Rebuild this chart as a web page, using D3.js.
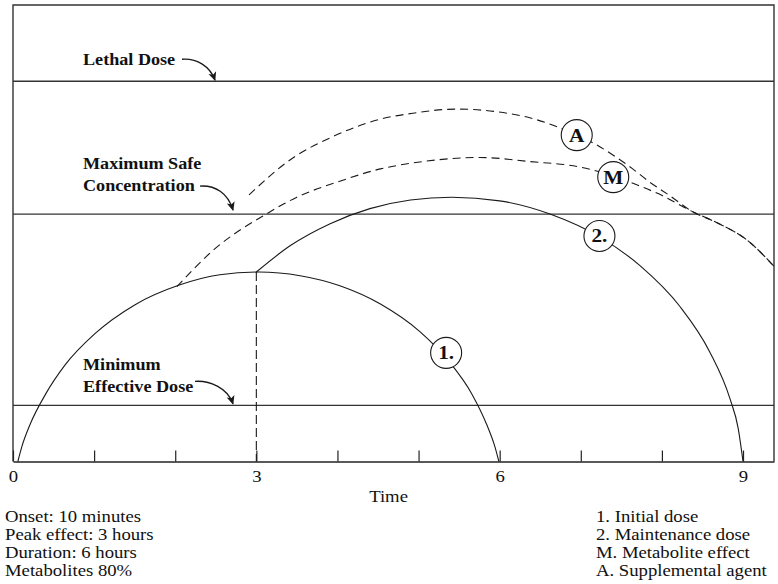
<!DOCTYPE html>
<html><head><meta charset="utf-8">
<script src="https://cdn.jsdelivr.net/npm/d3@7"></script>
<style>
html,body{margin:0;padding:0;background:#fff;}
svg{display:block;}
text{font-family:"Liberation Serif","Times New Roman",serif;fill:#111;}
</style>
</head><body>
<svg id="c" width="778" height="584"></svg>
<script>
// ---------- data ----------
const xTicks = [0,1,2,3,4,5,6,7,8,9];
const xTickLabels = ["0","3","6","9"];
const axisTitle = "Time";
const levelNames = [["Lethal Dose"], ["Maximum Safe","Concentration"], ["Minimum","Effective Dose"]];
const levelValues = [83.3, 54.2, 12.3];

// 1. Initial dose (time, concentration)
const initialDose = [[0.06,0],[0.11,3.3],[0.21,8.1],[0.40,14.7],[0.64,21.1],[1.01,28.0],[1.50,34.3],
  [2.06,38.7],[2.55,40.9],[3.03,41.5],[3.54,40.7],[4.03,38.5],[4.53,34.5],[5.02,28.4],[5.39,21.6],
  [5.66,14.7],[5.84,8.1],[5.94,3.3],[5.99,0]];
// 2. Maintenance dose
const maintenanceDose = [[3.0,41.5],[3.42,47.3],[3.91,52.1],[4.40,55.4],[4.90,57.3],[5.41,57.9],
  [6.00,57.1],[6.62,54.2],[7.24,49.1],[7.73,42.9],[8.22,34.0],[8.59,24.0],[8.84,13.7],[8.94,7.3],[9.0,0]];
// M. Metabolite effect
const metaboliteEffect = [[2.02,38.3],[2.47,46.3],[3.14,54.4],[3.50,57.9],[4.03,61.4],[4.53,64.1],
  [4.93,65.4],[5.76,66.6],[6.37,65.7],[6.99,64.5],[7.40,62.5],[7.69,60.6],[8.01,58.2],[8.38,54.7],
  [8.68,52.3],[9.05,48.5],[9.38,42.8]];
// A. Supplemental agent
const supplementalAgent = [[2.91,58.4],[3.45,66.5],[3.91,70.9],[4.53,75.0],[4.93,76.3],[5.47,77.2],
  [5.97,76.6],[6.37,75.3],[6.71,73.3],[6.95,71.5],[7.15,69.8],[7.40,67.1],[7.64,64.1],[7.85,61.2],
  [8.10,58.2],[8.38,54.7],[8.68,52.3],[9.05,48.5],[9.38,42.8]];
const peakTime = 3;
const peakValue = 41.5;
const curveLabels = ["1.","2.","M","A"];
const curveLabelPoints = [[5.34,23.8],[7.23,49.4],[7.40,62.3],[6.95,71.5]];
const notesLeft = ["Onset: 10 minutes","Peak effect: 3 hours","Duration: 6 hours","Metabolites 80%"];
const notesRight = ["1. Initial dose","2. Maintenance dose","M. Metabolite effect","A. Supplemental agent"];

// ---------- layout ----------
const L = 13, R = 774, T = 5, B = 461.5;
const SX = 1.1; // horizontal stretch of the lettering
const ink = "#1a1a1a";

const svg = d3.select("#c");
const x = d3.scaleLinear().domain([0, 9.382]).range([L, R]);
const y = d3.scaleLinear().domain([0, 100]).range([B, T]);

svg.append("defs").append("marker")
  .attr("id","ah").attr("viewBox","0 0 10 10").attr("refX",9).attr("refY",5)
  .attr("markerWidth",10).attr("markerHeight",9).attr("markerUnits","userSpaceOnUse")
  .attr("orient","auto")
  .append("path").attr("d","M0,0.5 L10,5 L0,9.5 L2.5,5 Z").attr("fill",ink);

// frame
svg.append("path")
  .attr("d", `M${L},${B} V${T} H${R} V${B}`)
  .attr("fill","none").attr("stroke","#333").attr("stroke-width",1.4);

// levels
svg.selectAll("line.level").data(levelValues).join("line")
  .attr("class","level")
  .attr("x1",L).attr("x2",R)
  .attr("y1",d=>y(d)).attr("y2",d=>y(d))
  .attr("stroke","#333").attr("stroke-width",1.4);

// level labels + arrows (annotation layout)
const labelLayout = [
  {tx:83, lastOff:-16, ax0:182, ay0:-22, ax1:215, ay1:-1},
  {tx:83, lastOff:-23, ax0:200, ay0:-28, ax1:233, ay1:-4},
  {tx:83, lastOff:-13.5, ax0:195, ay0:-24, ax1:233, ay1:-1.5}
];
levelNames.forEach((lines,i)=>{
  const ly = y(levelValues[i]);
  const lay = labelLayout[i];
  const n = lines.length;
  lines.forEach((s,j)=>{
    svg.append("text")
      .attr("transform",`translate(${lay.tx},${ly + lay.lastOff - (n-1-j)*22}) scale(${SX},1)`)
      .attr("font-size",16.5).attr("font-weight","bold").text(s);
  });
  const x0 = lay.ax0, y0 = ly + lay.ay0, x1 = lay.ax1, y1 = ly + lay.ay1;
  svg.append("path")
    .attr("d",`M${x0},${y0} C${x0+15},${y0-1} ${x1-5},${y0+7} ${x1},${y1}`)
    .attr("fill","none").attr("stroke",ink).attr("stroke-width",1.3)
    .attr("marker-end","url(#ah)");
});

// axis
const axis = d3.axisBottom(x).tickValues(xTicks).tickSize(-11).tickSizeOuter(0).tickPadding(8)
  .tickFormat(d => xTickLabels.includes(String(d)) ? String(d) : "");
const ag = svg.append("g").attr("transform",`translate(0,${B})`).call(axis);
ag.select(".domain").attr("stroke","#222").attr("stroke-width",1.4);
ag.selectAll(".tick line").attr("stroke","#222").attr("stroke-width",1.2);
ag.selectAll(".tick text").attr("font-size",17)
  .attr("font-family",'"Liberation Serif","Times New Roman",serif').attr("fill","#111")
  .attr("transform",`scale(${SX},1)`);

svg.append("text").attr("transform",`translate(${x(4.63)},502) scale(${SX},1)`)
  .attr("text-anchor","middle").attr("font-size",17).text(axisTitle);

// curves
const line = d3.line().x(d=>x(d[0])).y(d=>y(d[1])).curve(d3.curveMonotoneX);
const plot = svg.append("g");
plot.append("path").datum(metaboliteEffect).attr("d",line)
  .attr("fill","none").attr("stroke",ink).attr("stroke-width",1.1).attr("stroke-dasharray","8,5");
plot.append("path").datum(supplementalAgent).attr("d",line)
  .attr("fill","none").attr("stroke",ink).attr("stroke-width",1.1).attr("stroke-dasharray","8,5");
plot.append("path").datum(initialDose).attr("d",line)
  .attr("fill","none").attr("stroke",ink).attr("stroke-width",1.1);
plot.append("path").datum(maintenanceDose).attr("d",line)
  .attr("fill","none").attr("stroke",ink).attr("stroke-width",1.1);
plot.append("line")
  .attr("x1",x(peakTime)).attr("x2",x(peakTime)).attr("y1",y(peakValue)).attr("y2",B)
  .attr("stroke",ink).attr("stroke-width",1.1).attr("stroke-dasharray","9,4");

// curve labels
const cl = svg.selectAll("g.cl").data(curveLabels).join("g").attr("class","cl")
  .attr("transform",(d,i)=>`translate(${x(curveLabelPoints[i][0])},${y(curveLabelPoints[i][1])})`);
cl.append("circle").attr("r",15.5).attr("fill","#fff").attr("stroke",ink).attr("stroke-width",1.1);
cl.append("text").attr("transform",`scale(1.12,1)`).attr("text-anchor","middle").attr("dy","0.34em")
  .attr("font-size",19).attr("font-weight","bold").text(d=>d);

// notes
notesLeft.forEach((s,i)=>{
  svg.append("text").attr("transform",`translate(5,${522+i*18}) scale(${SX},1)`)
    .attr("font-size",17).text(s);
});
notesRight.forEach((s,i)=>{
  svg.append("text").attr("transform",`translate(596,${522+i*18}) scale(${SX},1)`)
    .attr("font-size",17).text(s);
});
</script>
</body></html>
